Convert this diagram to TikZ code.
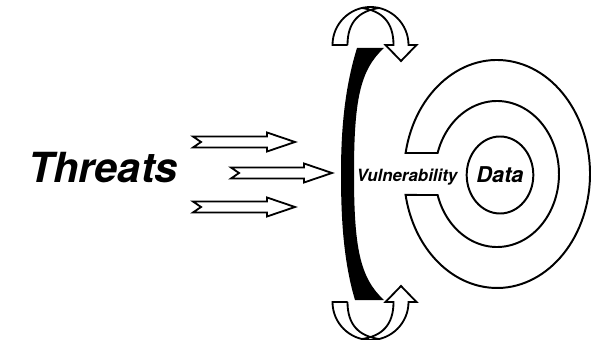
\documentclass[tikz,border=0pt]{standalone}
\usepackage{fontspec}
\setmainfont{TeX Gyre Heros}
\usetikzlibrary{shapes.geometric, positioning}
\tikzset{
  ring/.style   = {draw, line width=1.4pt, fill=white},
  hollow/.style = {draw, line width=1.3pt, line join=miter},
  lbl/.style    = {font=\bfseries\itshape, inner sep=0pt, anchor=base},
}

\begin{document}
\begin{tikzpicture}[x=0.025cm, y=-0.025cm]
  \useasboundingbox (0,0) rectangle (591,340);

  % C-shaped ring, open towards the barrier
  \draw[ring] (405.6,153)
    arc[start angle=190.61, end angle=529.39, x radius=93, y radius=114]
    -- (437.6,195)
    arc[start angle=523.28, end angle=196.72, x radius=62, y radius=73]
    -- cycle;

  \node[ring, ellipse, inner sep=0pt, minimum width=1.65cm,
        minimum height=1.925cm, font=\fontsize{15.5}{16}\selectfont\bfseries\itshape]
        (data) at (500,175) {Data};
  \node[lbl, font=\fontsize{12}{13}\selectfont\bfseries\itshape]
        (vuln) at (407,182) {Vulnerability};
  \node[lbl, font=\fontsize{29.5}{30}\selectfont\bfseries\itshape]
        (threats) at (103,183) {Threats};

  % barrier
  \fill (357,48) -- (384,48) .. controls (360,70) and (354,100) .. (354,174)
    .. controls (354,248) and (360,278) .. (384,300) -- (355,300)
    .. controls (343,260) and (341,215) .. (341,174)
    .. controls (341,133) and (344,90) .. (357,48) -- cycle;

  % incoming threats
  \foreach \cy/\ax/\bx in {142/193/295, 173/231/332, 207/193/295}
    \draw[hollow] (\ax,{\cy-5.5}) -- ({\bx-28},{\cy-5.5}) -- ({\bx-28},{\cy-9.5})
      -- (\bx,\cy) -- ({\bx-28},{\cy+9.5}) -- ({\bx-28},{\cy+5.5})
      -- (\ax,{\cy+5.5}) -- ({\ax+8},\cy) -- cycle;

  % turning arrows, top
  \draw[hollow] (347.5,45) -- (332.5,45) arc[start angle=180, end angle=360, radius=38]
    -- (416.5,45) -- (401,61) -- (385.5,45) -- (393.5,45)
    .. controls (393.5,22) and (382,11) .. (362,8);
  \draw[hollow] (347.5,45) .. controls (347.5,22) and (359,11) .. (379,8);

  % turning arrows, bottom
  \draw[hollow] (347.5,302) -- (332.5,302) arc[start angle=180, end angle=0, radius=38]
    -- (416.5,302) -- (401,286) -- (385.5,302) -- (393.5,302)
    .. controls (393.5,325) and (382,336) .. (362,339);
  \draw[hollow] (347.5,302) .. controls (347.5,325) and (359,336) .. (379,339);
\end{tikzpicture}
\end{document}
